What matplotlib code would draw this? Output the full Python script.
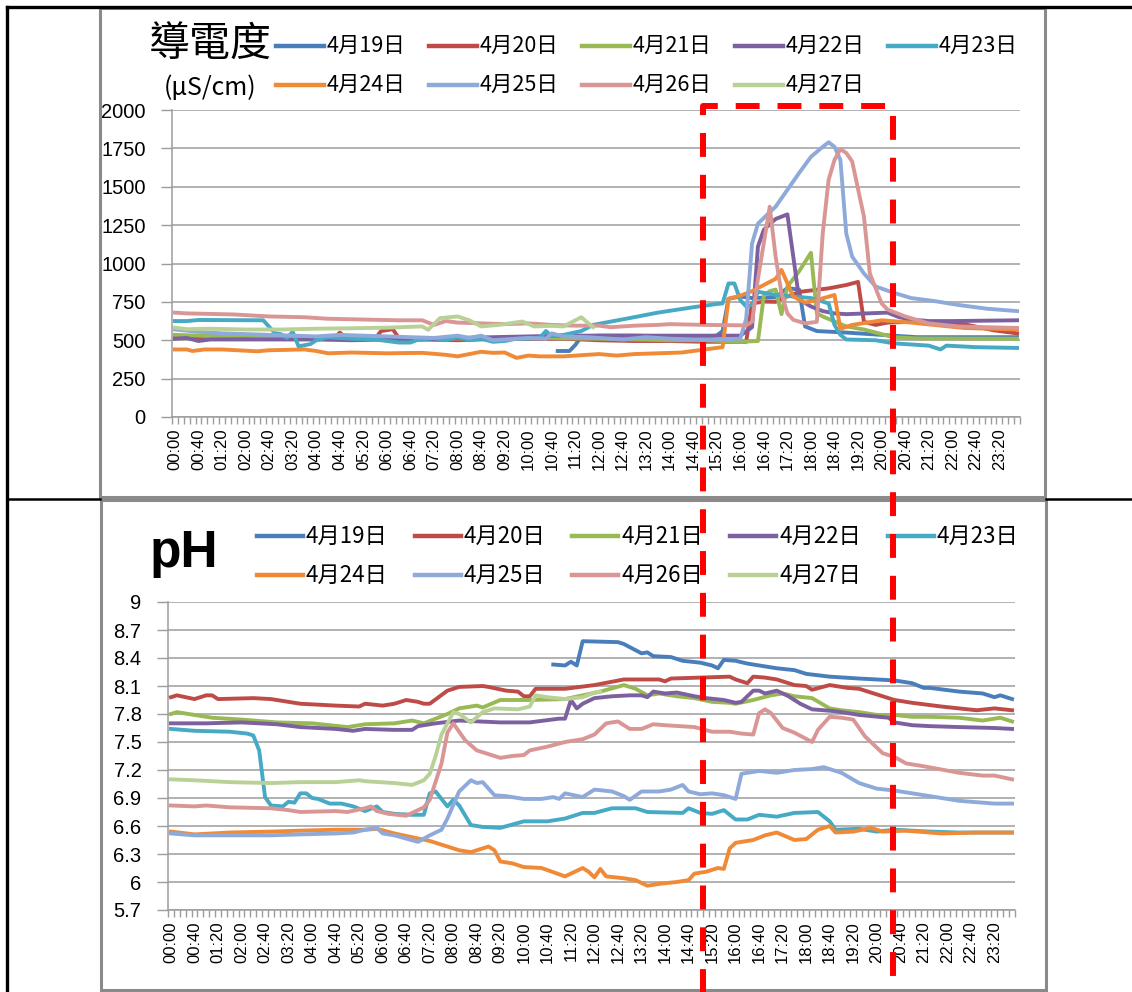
import numpy as np
import matplotlib
matplotlib.use("Agg")
import matplotlib.pyplot as plt
from matplotlib.lines import Line2D
from matplotlib.patches import Rectangle
from matplotlib import transforms

plt.rcParams['font.family'] = ['Liberation Sans', 'Noto Sans CJK TC', 'DejaVu Sans']
CJK = ['Noto Sans CJK TC', 'DejaVu Sans']

days = ["4月19日", "4月20日", "4月21日", "4月22日", "4月23日",
        "4月24日", "4月25日", "4月26日", "4月27日"]
colors = ["#4A7EBB", "#BE4B48", "#98B954", "#7D60A0", "#46AAC5",
          "#F08A36", "#8EAADB", "#D99694", "#B9D196"]

# 10-minute categories over one day
slots = ["%02d:%02d" % (m // 60, m % 60) for m in range(0, 24 * 60, 10)]

# conductivity readings (uS/cm), (time, value)
ec_0419 = [("10:50", 430), ("11:10", 430), ("11:20", 470), ("11:30", 525), ("12:00", 530),
           ("13:00", 530), ("14:00", 525), ("15:00", 525), ("15:20", 530), ("15:30", 560),
           ("15:40", 770), ("16:00", 785), ("16:20", 775), ("17:00", 780), ("17:20", 840),
           ("17:40", 830), ("17:50", 590), ("18:10", 560), ("19:00", 550), ("20:00", 535),
           ("21:00", 520), ("23:50", 520)]
ec_0420 = [("00:00", 520), ("01:00", 515), ("02:00", 515), ("03:00", 510), ("04:30", 512),
           ("04:40", 550), ("04:50", 515), ("05:40", 510), ("05:50", 560), ("06:10", 572),
           ("06:20", 515), ("07:00", 505), ("08:00", 500), ("09:00", 508), ("10:00", 510),
           ("11:00", 510), ("12:00", 500), ("13:00", 495), ("14:00", 495), ("15:00", 490),
           ("16:10", 490), ("16:20", 740), ("16:40", 752), ("17:00", 750), ("17:10", 770),
           ("17:40", 815), ("18:30", 838), ("19:00", 860), ("19:20", 880), ("19:30", 620),
           ("19:50", 600), ("20:10", 615), ("20:50", 620), ("22:20", 605), ("23:10", 565),
           ("23:50", 545)]
ec_0421 = [("00:00", 535), ("01:00", 528), ("02:00", 530), ("03:00", 522), ("04:00", 520),
           ("05:00", 515), ("06:00", 520), ("07:00", 510), ("08:00", 512), ("09:00", 515),
           ("10:00", 520), ("11:00", 512), ("12:00", 510), ("13:00", 505), ("14:00", 500),
           ("15:00", 500), ("16:00", 490), ("16:30", 495), ("16:40", 790), ("16:50", 820),
           ("17:00", 830), ("17:10", 670), ("17:20", 850), ("17:40", 950), ("18:00", 1070),
           ("18:10", 675), ("18:20", 655), ("19:00", 590), ("19:30", 570), ("20:20", 520),
           ("21:00", 512), ("23:50", 510)]
ec_0422 = [("00:00", 510), ("00:20", 515), ("00:40", 495), ("01:00", 505), ("02:00", 505),
           ("03:00", 505), ("04:00", 505), ("05:00", 500), ("06:00", 505), ("07:00", 505),
           ("08:00", 515), ("09:00", 520), ("10:00", 525), ("11:00", 530), ("12:00", 530),
           ("13:00", 530), ("14:00", 530), ("15:00", 530), ("16:00", 530), ("16:20", 585),
           ("16:30", 1110), ("16:40", 1220), ("17:00", 1290), ("17:20", 1320), ("17:30", 1045),
           ("17:40", 765), ("18:00", 720), ("18:20", 690), ("18:40", 675), ("19:00", 670),
           ("20:10", 680), ("20:30", 650), ("20:50", 635), ("21:20", 625), ("22:00", 625),
           ("23:50", 630)]
ec_0423 = [("00:00", 625), ("00:20", 625), ("00:40", 632), ("02:30", 630), ("02:50", 545),
           ("03:00", 540), ("03:10", 515), ("03:20", 555), ("03:30", 460), ("03:50", 475),
           ("04:00", 500), ("04:20", 520), ("05:00", 510), ("05:40", 505), ("06:00", 495),
           ("06:20", 485), ("06:40", 485), ("06:50", 500), ("07:20", 515), ("07:40", 500),
           ("08:00", 520), ("08:20", 500), ("08:40", 510), ("09:00", 490), ("09:20", 495),
           ("09:40", 510), ("10:00", 510), ("10:20", 518), ("10:30", 560), ("10:40", 525),
           ("11:00", 535), ("11:30", 560), ("11:50", 600), ("12:50", 643), ("13:40", 680),
           ("14:40", 715), ("15:20", 736), ("15:30", 740), ("15:40", 870), ("15:50", 870),
           ("16:00", 762), ("16:10", 720), ("16:20", 730), ("16:30", 816), ("17:00", 795),
           ("17:30", 785), ("18:00", 775), ("18:30", 740), ("18:40", 600), ("18:50", 535),
           ("19:00", 505), ("19:50", 500), ("20:20", 480), ("21:20", 465), ("21:40", 440),
           ("21:50", 465), ("22:40", 455), ("23:50", 450)]
ec_0424 = [("00:00", 440), ("00:20", 440), ("00:30", 430), ("00:50", 440), ("01:20", 440),
           ("02:20", 428), ("02:40", 435), ("03:40", 440), ("04:00", 430), ("04:20", 415),
           ("05:00", 420), ("06:00", 415), ("07:00", 418), ("07:40", 405), ("08:00", 395),
           ("08:20", 410), ("08:40", 425), ("09:00", 418), ("09:20", 420), ("09:40", 385),
           ("10:00", 400), ("10:20", 395), ("11:00", 395), ("11:20", 400), ("12:00", 410),
           ("12:30", 400), ("13:00", 410), ("13:40", 415), ("14:20", 420), ("14:40", 430),
           ("15:00", 440), ("15:30", 455), ("15:40", 770), ("16:00", 790), ("16:20", 820),
           ("16:40", 860), ("17:00", 900), ("17:10", 958), ("17:30", 785), ("17:50", 745),
           ("18:10", 762), ("18:40", 795), ("18:50", 575), ("19:10", 600), ("20:00", 630),
           ("20:50", 615), ("22:20", 580), ("23:50", 570)]
ec_0425 = [("00:00", 570), ("00:40", 555), ("01:20", 545), ("02:00", 540), ("02:40", 535),
           ("03:20", 530), ("04:00", 525), ("04:40", 535), ("05:20", 530), ("06:00", 525),
           ("06:40", 520), ("07:20", 515), ("08:00", 530), ("08:20", 515), ("08:40", 530),
           ("09:00", 500), ("09:20", 505), ("10:00", 515), ("10:30", 510), ("10:40", 545),
           ("11:00", 525), ("11:40", 520), ("12:00", 515), ("12:40", 505), ("13:20", 520),
           ("14:00", 510), ("14:40", 505), ("15:20", 505), ("16:00", 510), ("16:10", 640),
           ("16:20", 1130), ("16:30", 1260), ("17:00", 1370), ("17:20", 1480), ("17:40", 1590),
           ("18:00", 1695), ("18:20", 1760), ("18:30", 1790), ("18:40", 1760), ("18:50", 1675),
           ("19:00", 1195), ("19:10", 1045), ("19:30", 935), ("19:50", 850), ("20:20", 810),
           ("20:50", 775), ("21:30", 755), ("22:10", 730), ("23:00", 705), ("23:50", 690)]
ec_0426 = [("00:00", 680), ("00:20", 675), ("01:40", 668), ("02:40", 655), ("03:40", 650),
           ("04:20", 640), ("05:20", 635), ("06:20", 630), ("07:00", 630), ("07:20", 600),
           ("07:40", 625), ("08:00", 615), ("08:40", 610), ("09:20", 605), ("10:00", 610),
           ("10:40", 600), ("11:20", 595), ("12:00", 595), ("12:20", 585), ("13:00", 595),
           ("13:40", 600), ("14:00", 605), ("15:00", 600), ("16:10", 597), ("16:20", 620),
           ("16:30", 900), ("16:50", 1370), ("17:00", 1045), ("17:10", 805), ("17:20", 675),
           ("17:30", 633), ("17:50", 610), ("18:10", 620), ("18:20", 1195), ("18:30", 1545),
           ("18:40", 1675), ("18:50", 1745), ("19:00", 1720), ("19:10", 1665), ("19:30", 1305),
           ("19:40", 935), ("20:00", 740), ("20:10", 700), ("20:40", 655), ("21:20", 610),
           ("22:10", 590), ("23:50", 580)]
ec_0427 = [("00:00", 582), ("00:20", 572), ("01:00", 575), ("02:00", 570), ("03:00", 570),
           ("04:00", 575), ("05:00", 578), ("06:00", 582), ("07:00", 590), ("07:10", 568),
           ("07:30", 644), ("08:00", 655), ("08:20", 630), ("08:40", 590), ("09:10", 600),
           ("09:50", 622), ("10:10", 590), ("10:40", 594), ("11:00", 590), ("11:30", 650),
           ("11:50", 585)]

# pH readings, (time, value)
ph_0419 = [("10:50", 8.33), ("11:10", 8.32), ("11:20", 8.36), ("11:30", 8.32), ("11:40", 8.58),
           ("12:40", 8.57), ("12:50", 8.55), ("13:20", 8.45), ("13:30", 8.46), ("13:40", 8.42),
           ("14:10", 8.41), ("14:30", 8.37), ("15:00", 8.35), ("15:20", 8.32), ("15:30", 8.29),
           ("15:40", 8.38), ("16:00", 8.37), ("16:20", 8.34), ("16:40", 8.32), ("17:10", 8.29),
           ("17:40", 8.27), ("18:00", 8.23), ("18:40", 8.20), ("19:30", 8.18), ("20:30", 8.16),
           ("21:00", 8.13), ("21:20", 8.08), ("21:30", 8.08), ("22:20", 8.04), ("23:00", 8.02),
           ("23:20", 7.98), ("23:30", 8.00), ("23:50", 7.96)]
ph_0420 = [("00:00", 7.98), ("00:10", 8.00), ("00:40", 7.96), ("01:00", 8.00), ("01:10", 8.00),
           ("01:20", 7.96), ("02:20", 7.97), ("02:50", 7.96), ("03:20", 7.93), ("03:40", 7.91),
           ("04:40", 7.89), ("05:20", 7.88), ("05:30", 7.91), ("06:00", 7.89), ("06:20", 7.91),
           ("06:40", 7.95), ("07:00", 7.93), ("07:10", 7.91), ("07:20", 7.91), ("07:50", 8.05),
           ("08:10", 8.09), ("08:50", 8.10), ("09:00", 8.09), ("09:30", 8.05), ("09:50", 8.04),
           ("10:00", 7.99), ("10:10", 7.99), ("10:20", 8.07), ("11:10", 8.07), ("12:00", 8.11),
           ("12:50", 8.17), ("13:50", 8.17), ("14:00", 8.15), ("14:10", 8.18), ("15:00", 8.19),
           ("15:50", 8.20), ("16:00", 8.17), ("16:20", 8.13), ("16:30", 8.20), ("16:50", 8.19),
           ("17:10", 8.17), ("17:40", 8.11), ("18:00", 8.10), ("18:10", 8.06), ("18:40", 8.11),
           ("19:10", 8.08), ("19:30", 8.07), ("20:00", 8.01), ("20:30", 7.95), ("21:00", 7.92),
           ("21:50", 7.88), ("22:50", 7.84), ("23:20", 7.86), ("23:50", 7.84)]
ph_0421 = [("00:00", 7.80), ("00:10", 7.82), ("00:40", 7.79), ("01:10", 7.76), ("02:00", 7.74),
           ("03:00", 7.71), ("04:00", 7.70), ("05:00", 7.66), ("05:30", 7.69), ("06:20", 7.70),
           ("06:50", 7.73), ("07:10", 7.70), ("07:50", 7.80), ("08:10", 7.86), ("08:40", 7.89),
           ("08:50", 7.87), ("09:20", 7.95), ("10:10", 7.95), ("11:10", 7.96), ("11:40", 8.00),
           ("12:10", 8.04), ("12:50", 8.11), ("13:10", 8.07), ("13:30", 8.00), ("13:50", 8.02),
           ("14:20", 7.99), ("14:50", 7.97), ("15:20", 7.93), ("15:50", 7.92), ("16:00", 7.91),
           ("16:30", 7.95), ("17:00", 8.00), ("17:20", 8.02), ("17:40", 7.99), ("18:10", 7.97),
           ("18:40", 7.86), ("19:00", 7.84), ("19:30", 7.82), ("20:00", 7.79), ("20:30", 7.79),
           ("21:00", 7.77), ("21:30", 7.77), ("22:20", 7.76), ("23:00", 7.73), ("23:30", 7.76),
           ("23:50", 7.72)]
ph_0422 = [("00:00", 7.70), ("01:00", 7.70), ("02:00", 7.71), ("03:00", 7.69), ("03:40", 7.66),
           ("04:40", 7.64), ("05:10", 7.62), ("05:30", 7.64), ("06:20", 7.63), ("06:50", 7.63),
           ("07:00", 7.67), ("07:30", 7.70), ("08:10", 7.73), ("09:20", 7.71), ("10:10", 7.71),
           ("11:00", 7.75), ("11:10", 7.75), ("11:20", 7.95), ("11:30", 7.86), ("11:40", 7.91),
           ("12:00", 7.97), ("12:30", 7.99), ("13:00", 8.00), ("13:20", 8.00), ("13:30", 7.98),
           ("13:40", 8.04), ("14:00", 8.02), ("14:20", 8.03), ("14:50", 7.99), ("15:10", 7.97),
           ("15:40", 7.95), ("16:00", 7.92), ("16:10", 7.93), ("16:30", 8.05), ("16:40", 8.05),
           ("16:50", 8.02), ("17:10", 8.05), ("17:30", 7.99), ("17:50", 7.91), ("18:10", 7.85),
           ("18:50", 7.83), ("19:30", 7.79), ("20:20", 7.76), ("20:30", 7.71), ("21:00", 7.68),
           ("21:30", 7.67), ("22:20", 7.66), ("23:20", 7.65), ("23:50", 7.64)]
ph_0423 = [("00:00", 7.64), ("00:40", 7.62), ("01:40", 7.61), ("02:10", 7.59), ("02:20", 7.57),
           ("02:30", 7.41), ("02:40", 6.91), ("02:50", 6.82), ("03:10", 6.81), ("03:20", 6.86),
           ("03:30", 6.85), ("03:40", 6.95), ("03:50", 6.95), ("04:00", 6.90), ("04:10", 6.89),
           ("04:30", 6.84), ("04:50", 6.84), ("05:10", 6.81), ("05:30", 6.76), ("05:50", 6.81),
           ("06:00", 6.75), ("06:20", 6.73), ("06:50", 6.72), ("07:10", 6.72), ("07:20", 6.95),
           ("07:30", 6.97), ("07:50", 6.81), ("08:00", 6.88), ("08:10", 6.82), ("08:30", 6.61),
           ("08:50", 6.59), ("09:20", 6.58), ("10:00", 6.65), ("10:40", 6.65), ("11:10", 6.68),
           ("11:40", 6.74), ("12:00", 6.74), ("12:30", 6.79), ("13:10", 6.79), ("13:30", 6.75),
           ("14:30", 6.74), ("14:40", 6.79), ("15:00", 6.74), ("15:20", 6.73), ("15:40", 6.77),
           ("16:00", 6.67), ("16:20", 6.67), ("16:40", 6.72), ("17:10", 6.70), ("17:40", 6.74),
           ("18:20", 6.75), ("18:40", 6.65), ("18:50", 6.56), ("19:30", 6.57), ("20:00", 6.54),
           ("20:30", 6.56), ("21:30", 6.54), ("22:20", 6.53), ("23:50", 6.53)]
ph_0424 = [("00:00", 6.54), ("00:40", 6.51), ("01:40", 6.53), ("02:50", 6.54), ("03:40", 6.55),
           ("04:40", 6.56), ("05:30", 6.56), ("05:50", 6.57), ("06:20", 6.52), ("06:50", 6.48),
           ("07:20", 6.44), ("07:50", 6.38), ("08:10", 6.34), ("08:30", 6.32), ("08:50", 6.36),
           ("09:00", 6.38), ("09:10", 6.34), ("09:20", 6.22), ("09:40", 6.20), ("10:00", 6.16),
           ("10:30", 6.15), ("11:10", 6.06), ("11:40", 6.15), ("11:50", 6.11), ("12:00", 6.05),
           ("12:10", 6.14), ("12:20", 6.06), ("12:50", 6.04), ("13:10", 6.02), ("13:30", 5.96),
           ("13:50", 5.98), ("14:20", 6.00), ("14:40", 6.02), ("14:50", 6.09), ("15:10", 6.11),
           ("15:30", 6.15), ("15:40", 6.14), ("15:50", 6.36), ("16:00", 6.42), ("16:30", 6.45),
           ("16:50", 6.50), ("17:10", 6.53), ("17:40", 6.45), ("18:00", 6.46), ("18:20", 6.56),
           ("18:40", 6.60), ("18:50", 6.53), ("19:20", 6.54), ("19:50", 6.58), ("20:10", 6.54),
           ("20:50", 6.55), ("21:50", 6.52), ("22:50", 6.53), ("23:50", 6.53)]
ph_0425 = [("00:00", 6.52), ("00:40", 6.50), ("02:50", 6.50), ("03:40", 6.51), ("04:40", 6.52),
           ("05:10", 6.53), ("05:30", 6.56), ("05:50", 6.58), ("06:00", 6.52), ("06:20", 6.50),
           ("07:00", 6.43), ("07:20", 6.50), ("07:40", 6.56), ("07:50", 6.68), ("08:10", 6.97),
           ("08:30", 7.09), ("08:40", 7.06), ("08:50", 7.07), ("09:10", 6.93), ("09:30", 6.92),
           ("10:00", 6.89), ("10:30", 6.89), ("10:50", 6.91), ("11:00", 6.89), ("11:10", 6.95),
           ("11:40", 6.91), ("12:00", 6.99), ("12:30", 6.97), ("12:50", 6.92), ("13:00", 6.88),
           ("13:20", 6.97), ("13:50", 6.97), ("14:10", 6.99), ("14:30", 7.04), ("14:40", 6.97),
           ("15:00", 6.94), ("15:20", 6.95), ("15:40", 6.93), ("16:00", 6.89), ("16:10", 7.16),
           ("16:40", 7.19), ("17:10", 7.17), ("17:40", 7.20), ("18:10", 7.21), ("18:30", 7.23),
           ("19:00", 7.17), ("19:30", 7.06), ("20:00", 7.00), ("20:30", 6.98), ("21:20", 6.93),
           ("22:20", 6.87), ("23:20", 6.84), ("23:50", 6.84)]
ph_0426 = [("00:00", 6.82), ("00:40", 6.81), ("01:00", 6.82), ("01:40", 6.80), ("02:50", 6.79),
           ("03:20", 6.77), ("03:40", 6.75), ("04:40", 6.76), ("05:00", 6.75), ("05:30", 6.79),
           ("05:40", 6.81), ("05:50", 6.76), ("06:10", 6.73), ("06:40", 6.71), ("07:10", 6.80),
           ("07:20", 6.88), ("07:40", 7.27), ("07:50", 7.60), ("08:00", 7.70), ("08:20", 7.52),
           ("08:40", 7.41), ("09:00", 7.37), ("09:20", 7.33), ("09:40", 7.35), ("10:00", 7.36),
           ("10:10", 7.41), ("10:40", 7.45), ("11:10", 7.50), ("11:40", 7.53), ("12:00", 7.58),
           ("12:20", 7.70), ("12:40", 7.72), ("13:00", 7.64), ("13:20", 7.64), ("13:40", 7.69),
           ("14:00", 7.68), ("14:50", 7.66), ("15:20", 7.61), ("15:50", 7.61), ("16:10", 7.59),
           ("16:30", 7.58), ("16:40", 7.81), ("16:50", 7.85), ("17:00", 7.81), ("17:20", 7.65),
           ("17:40", 7.60), ("18:10", 7.50), ("18:20", 7.63), ("18:40", 7.77), ("19:00", 7.76),
           ("19:20", 7.74), ("19:40", 7.56), ("20:10", 7.38), ("20:30", 7.34), ("20:50", 7.27),
           ("21:20", 7.24), ("22:20", 7.17), ("23:00", 7.14), ("23:20", 7.14), ("23:50", 7.10)]
ph_0427 = [("00:00", 7.10), ("00:40", 7.09), ("01:40", 7.07), ("02:50", 7.06), ("03:40", 7.07),
           ("04:40", 7.07), ("05:20", 7.09), ("05:30", 7.08), ("06:20", 7.06), ("06:50", 7.04),
           ("07:10", 7.09), ("07:20", 7.16), ("07:30", 7.35), ("07:40", 7.58), ("08:00", 7.82),
           ("08:10", 7.80), ("08:30", 7.71), ("08:50", 7.82), ("09:10", 7.86), ("09:50", 7.85),
           ("10:10", 7.88), ("10:20", 8.00), ("10:40", 7.98), ("11:10", 7.96), ("11:40", 7.98),
           ("12:00", 8.03), ("12:10", 8.04)]

ec_series = [ec_0419, ec_0420, ec_0421, ec_0422, ec_0423, ec_0424, ec_0425, ec_0426, ec_0427]
ph_series = [ph_0419, ph_0420, ph_0421, ph_0422, ph_0423, ph_0424, ph_0425, ph_0426, ph_0427]

ec_ticks = np.arange(0, 2001, 250)
ph_ticks = np.round(np.arange(5.7, 9.01, 0.3), 1)

# span of the marked period, drawn across both panels
window = ("14:57", "20:19")

W, H = 1132, 992


def slot(t):
    h, m = t.split(":")
    return (int(h) * 60 + int(m)) / 10.0


def fx(px):
    return px / W


def fy(py):
    return 1 - py / H


fig = plt.figure(figsize=(W / 100, H / 100), dpi=100)
fig.patch.set_facecolor("white")

ax1 = fig.add_axes([fx(172), fy(417), (1020 - 172) / W, (417 - 110) / H])
ax2 = fig.add_axes([fx(168), fy(910), (1015 - 168) / W, (910 - 602) / H])

grey = "#9c9c9c"
for ax, series, ticks in ((ax1, ec_series, ec_ticks), (ax2, ph_series, ph_ticks)):
    for pairs, c in zip(series, colors):
        xs = [slot(t) for t, v in pairs]
        ys = [v for t, v in pairs]
        ax.plot(xs, ys, color=c, lw=2.8, solid_joinstyle="round", zorder=3)
    ax.set_xlim(-0.5, len(slots) - 0.5)
    ax.set_ylim(ticks[0], ticks[-1])
    ax.set_yticks(ticks)
    ax.set_yticklabels(["%g" % t for t in ticks])
    ax.set_xticks(range(0, len(slots), 4))
    ax.set_xticklabels(slots[::4], rotation=90, fontsize=12)
    ax.set_xticks(np.arange(-0.5, len(slots), 1), minor=True)
    ax.tick_params(axis="x", which="major", length=0, pad=8)
    ax.tick_params(axis="x", which="minor", length=5, color=grey, width=1)
    ax.tick_params(axis="y", length=8, color=grey, width=1, pad=11, labelsize=14.5)
    ax.grid(axis="y", color=grey, lw=1.1)
    ax.set_axisbelow(True)
    for s in ("top", "right"):
        ax.spines[s].set_visible(False)
    for s in ("left", "bottom"):
        ax.spines[s].set_color(grey)
        ax.spines[s].set_linewidth(1.1)

# chart frames and table rules
fig.add_artist(Rectangle((fx(100), fy(497)), 945 / W, 489 / H, transform=fig.transFigure,
                         fill=False, ec="#8a8a8a", lw=2.2, zorder=1))
fig.add_artist(Rectangle((fx(101), fy(990)), 945 / W, 490 / H, transform=fig.transFigure,
                         fill=False, ec="#8a8a8a", lw=2.2, zorder=1))
for xs, ys, lw in (([7, 1132], [7, 7], 2.4), ([7, 7], [7, 992], 2.4),
                   ([7, 100], [499, 499], 1.8), ([1046, 1132], [499, 499], 1.8)):
    fig.add_artist(Line2D([fx(x) for x in xs], [fy(y) for y in ys],
                          transform=fig.transFigure, color="black", lw=lw))

# titles
fig.text(fx(210), fy(45), "導電度", fontsize=29.5, family=CJK, ha="center", va="center")
fig.text(fx(210), fy(88), "(μS/cm)", fontsize=18, family=CJK, ha="center", va="center")
fig.text(fx(184), fy(567), "pH", fontsize=37, weight="bold", family="Liberation Sans",
         ha="center", va="baseline")


# legend rows: five keys on the first row, four on the second
def draw_keys(x0, step, rows, key_len, size):
    for i, (name, c) in enumerate(zip(days, colors)):
        x = x0 + (i % 5) * step
        y = rows[i // 5]
        fig.add_artist(Line2D([fx(x), fx(x + key_len)], [fy(y), fy(y)],
                              transform=fig.transFigure, color=c, lw=3.2))
        fig.text(fx(x + key_len + 3), fy(y), name, fontsize=size, family=CJK,
                 ha="left", va="center")


draw_keys(276, 153, (46, 85), 48, 15.5)
draw_keys(257, 157.7, (536, 575), 46, 16)

# marked period outline
blend = transforms.blended_transform_factory(ax1.transData, fig.transFigure)
x0, x1 = slot(window[0]), slot(window[1])
fig.add_artist(Line2D([x0, x0, x1, x1], [fy(995), fy(106), fy(106), fy(995)],
                      transform=blend, color="#FF0000", lw=4.3, dashes=(4, 3),
                      solid_joinstyle="miter", zorder=10))

fig.savefig("out.png", dpi=100, facecolor="white")
